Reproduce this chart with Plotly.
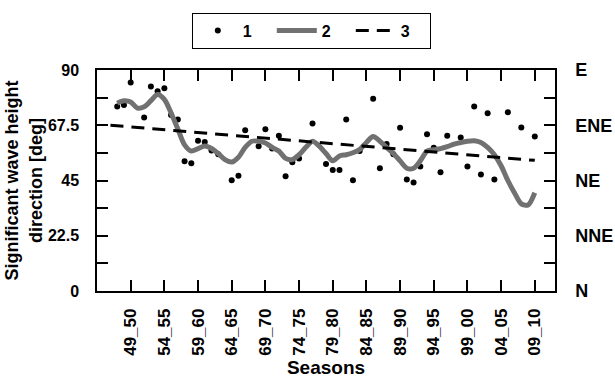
import plotly.graph_objects as go

# Series 1: seasonal values (dots)
dot_years = [1947, 1948, 1949, 1951, 1952, 1953, 1954, 1955, 1956, 1957, 1958, 1959, 1960,
             1961, 1962, 1964, 1965, 1966, 1968, 1969, 1970, 1971, 1972, 1973, 1974, 1976,
             1978, 1979, 1980, 1981, 1982, 1983, 1985, 1986, 1987, 1988, 1989, 1990, 1991,
             1992, 1993, 1994, 1995, 1996, 1998, 1999, 2000, 2001, 2002, 2003, 2005, 2007, 2009]
dot_values = [75.1, 75.7, 84.9, 70.7, 83.3, 81.3, 82.6, 71.7, 69.8, 52.8, 52.0, 61.2, 60.7,
              57.2, 55.7, 45.1, 46.9, 65.5, 58.9, 65.9, 58.0, 63.2, 46.7, 52.4, 54.0, 68.2,
              51.7, 49.3, 49.3, 69.8, 45.1, 57.0, 78.3, 50.0, 59.9, 55.7, 66.5, 45.4, 44.2,
              50.7, 63.8, 58.3, 48.4, 63.2, 62.5, 50.7, 75.1, 47.4, 72.4, 45.4, 72.8, 66.6, 62.9]

# Series 2: smoothed values (grey line)
line_years = list(range(1947, 2010))
line_values = [76.5, 77.5, 77.0, 74.5, 75.0, 77.5, 80.0, 78.0, 72.5, 66.0,
               59.5, 57.0, 58.0, 59.0, 58.0, 56.0, 53.5, 52.5, 54.5, 58.5,
               61.0, 61.0, 60.3, 58.5, 57.0, 54.0, 53.5, 55.5, 58.5, 61.0,
               59.0, 56.0, 53.0, 55.0, 55.5, 56.3, 57.6, 60.5, 62.9, 61.0,
               58.5, 56.0, 53.0, 50.0, 50.0, 53.0, 57.0, 57.5, 58.0, 58.8,
               59.8, 60.5, 61.0, 61.2, 60.5, 58.5, 55.5, 51.0, 45.0, 39.9,
               35.5, 35.0, 40.0]

# Series 3: linear trend (dashed)
trend_years = [1946, 2009]
trend_values = [67.5, 53.2]

# Axis ticks
x_tick_years = [1949, 1954, 1959, 1964, 1969, 1974, 1979, 1984, 1989, 1994, 1999, 2004, 2009]
x_tick_labels = ["49_50", "54_55", "59_60", "64_65", "69_70", "74_75", "79_80",
                 "84_85", "89_90", "94_95", "99_00", "04_05", "09_10"]
y_tick_vals = [0, 11.25, 22.5, 33.75, 45, 56.25, 67.5, 78.75, 90]
y_tick_left = ["0", "", "22.5", "", "45", "", "67.5", "", "90"]
y_tick_right = ["N", "", "NNE", "", "NE", "", "ENE", "", "E"]

FONT = "Liberation Sans"

fig = go.Figure()
fig.add_trace(go.Scatter(x=dot_years, y=dot_values, mode="markers", name="1",
                         marker=dict(color="black", size=6)))
fig.add_trace(go.Scatter(x=line_years, y=line_values, mode="lines", name="2",
                         line=dict(color="#717171", width=5, shape="spline", smoothing=0.8)))
fig.add_trace(go.Scatter(x=trend_years, y=trend_values, mode="lines", name="3",
                         line=dict(color="black", width=3, dash="13px,8px")))
# invisible trace to activate right axis
fig.add_trace(go.Scatter(x=[1944], y=[0], yaxis="y2", mode="markers",
                         marker=dict(opacity=0), showlegend=False, hoverinfo="skip"))

tickfont = dict(family=FONT, size=16, color="black", weight="bold")

fig.update_layout(
    width=615, height=382,
    margin=dict(l=97, r=60, t=63, b=91),
    plot_bgcolor="white", paper_bgcolor="white",
    font=dict(family=FONT, color="black"),
    showlegend=True,
    legend=dict(orientation="h", x=0.207, xanchor="left", y=1.26, yanchor="top",
                bordercolor="black", borderwidth=1,
                font=dict(family=FONT, size=16, color="black", weight="bold"),
                itemwidth=40, entrywidth=24),
    xaxis=dict(range=[1944, 2012], tickvals=x_tick_years, ticktext=x_tick_labels,
               tickangle=-90, ticks="inside", ticklen=11, tickwidth=1.5, tickcolor="black",
               showline=True, linecolor="black", linewidth=1.5, mirror="ticks",
               showgrid=False, zeroline=False, tickfont=dict(family=FONT, size=17, color="black", weight="bold"),
               ticklabelstandoff=9, automargin=False,
               title=dict(text="Seasons", font=dict(family=FONT, size=19, weight="bold"),
                          standoff=6)),
    yaxis=dict(range=[0, 90], tickvals=y_tick_vals, ticktext=y_tick_left,
               ticks="inside", ticklen=11, tickwidth=1.5, tickcolor="black",
               showline=True, linecolor="black", linewidth=1.5,
               showgrid=False, zeroline=False, tickfont=tickfont, ticklabelstandoff=13,
               automargin=False,
               title=dict(text="Significant wave height<br>direction [deg]",
                          font=dict(family=FONT, size=18, weight="bold"), standoff=1)),
    yaxis2=dict(range=[0, 90], tickvals=y_tick_vals, ticktext=y_tick_right,
                overlaying="y", side="right",
                ticks="inside", ticklen=11, tickwidth=1.5, tickcolor="black",
                showline=True, linecolor="black", linewidth=1.5,
                showgrid=False, zeroline=False, automargin=False,
                tickfont=dict(family=FONT, size=18, color="black", weight="bold"),
                ticklabelstandoff=15),
)

fig.write_html("out.html")
